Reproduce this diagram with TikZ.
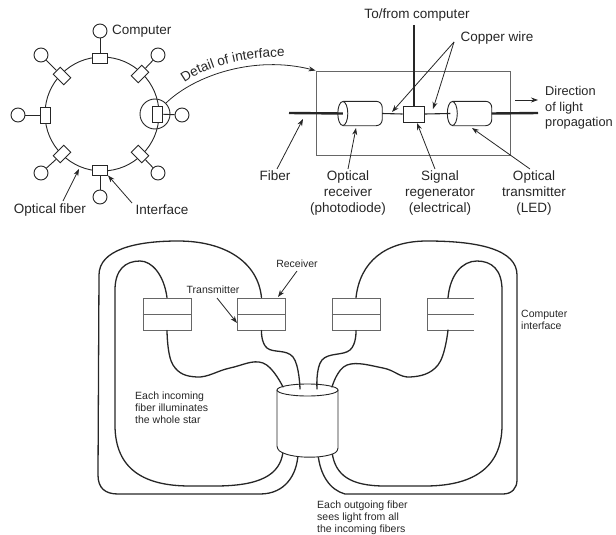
\documentclass[tikz,border=0pt]{standalone}
\usepackage{fontspec}
\setmainfont{Liberation Sans}
\usetikzlibrary{arrows.meta,decorations.text}
\definecolor{ink}{gray}{0.15}
\definecolor{boxgray}{gray}{0.4}
\tikzset{
  line/.style={draw=ink,line width=0.9pt},
  fiber/.style={draw=ink,line width=1.3pt,line cap=round},
  thick fiber/.style={draw=ink,line width=2.4pt},
  wire/.style={draw=ink,line width=1.1pt},
  pointer/.style={draw=ink,line width=0.8pt,-{Stealth[length=7pt,width=5pt]}},
  iface/.style={draw=ink,fill=white,line width=0.9pt,rectangle,minimum width=15pt,minimum height=10pt,inner sep=0pt},
  host/.style={draw=ink,fill=white,line width=0.9pt,circle,minimum size=14pt,inner sep=0pt},
  lab/.style={text=ink,font=\fontsize{13.5}{15.6}\selectfont,inner sep=0pt,align=center},
  small/.style={text=ink,font=\fontsize{10.5}{11.7}\selectfont,inner sep=0pt,align=left},
  pc/.style={draw=boxgray,line width=0.9pt,rectangle,minimum width=48pt,minimum height=32pt,inner sep=0pt},
  tubebox/.style={rectangle,minimum width=45pt,minimum height=24pt,inner sep=0pt},
}
\newcommand{\tubeshape}[1]{%
  \draw[line,fill=white,rounded corners=6pt] ([xshift=6pt]#1.north west) -- (#1.north east) -- (#1.south east) -- ([xshift=6pt]#1.south west);
  \draw[line,fill=white] ([xshift=6pt]#1.west) ellipse [x radius=5pt,y radius=12pt];
}
\begin{document}
\begin{tikzpicture}[x=1pt,y=-1pt]
\useasboundingbox (0,0) rectangle (616,535);
% ring
\node[draw=ink,line width=0.9pt,circle,minimum size=114pt,inner sep=0pt] (ring) at (102,114) {};
\node[iface] (i1) at (100,58) {};
\node[iface,rotate=45] (i2) at (140,74) {};
\node[iface,minimum width=10pt,minimum height=16pt] (i3) at (157,114) {};
\node[iface,rotate=-45] (i4) at (140,154) {};
\node[iface] (i5) at (100,170) {};
\node[iface,rotate=45] (i6) at (62,154) {};
\node[iface,minimum width=10pt,minimum height=16pt] (i7) at (45,115) {};
\node[iface,rotate=-45] (i8) at (62,76) {};
\node[host] (c1) at (100,31) {};
\node[host] (c2) at (158,55) {};
\node[host] (c3) at (182,115) {};
\node[host] (c4) at (158,173) {};
\node[host] (c5) at (100,197) {};
\node[host] (c6) at (41,173) {};
\node[host] (c7) at (18,115) {};
\node[host] (c8) at (41,55) {};
\foreach \k in {1,...,8} {\draw[line] (i\k) -- (c\k);}
\node[draw=ink,line width=0.9pt,circle,minimum size=30pt,inner sep=0pt] (zoomring) at (155,114) {};
\node[lab,anchor=west] (tcomp) at (112,31) {Computer};
\node[lab] (tof) at (50,210) {Optical fiber};
\node[lab] (tif) at (162,210) {Interface};
\coordinate (ofstart) at (63,201);
\coordinate (ofend) at (79,169);
\draw[pointer] (ofstart) -- (ofend);
\coordinate (ifstart) at (132,203);
\draw[pointer] (ifstart) -- (i5.south east);
% detail box
\node[draw=boxgray,line width=0.9pt,rectangle,minimum width=194pt,minimum height=84pt,inner sep=0pt] (detail) at (413,113) {};
\draw[pointer] (zoomring.north east) .. controls (195,75) and (255,55) .. (detail.north west);
\path[decorate,decoration={text along path,text align=center,text={|\fontsize{13.5}{15.6}\selectfont\color{ink}|Detail of interface}}] (180,86) .. controls (205,66) and (245,56) .. (290,57);
\coordinate (fibL) at (289,113);
\coordinate (fibR) at (538,113);
\coordinate (cpu) at (414,25);
\node[tubebox] (rx) at (359.5,113.5) {};
\node[tubebox] (tx) at (469,113.5) {};
\tubeshape{rx}
\tubeshape{tx}
\node[draw=ink,fill=white,line width=0.9pt,rectangle,minimum width=21pt,minimum height=16pt,inner sep=0pt] (reg) at (413.5,114) {};
\draw[thick fiber] (fibL) -- ([xshift=6pt]rx.west);
\draw[thick fiber] (tx.east) -- (fibR);
\draw[wire] (rx.east) -- (reg.west);
\draw[wire] (reg.east) -- ([xshift=4pt]tx.west);
\draw[wire] (cpu) -- (cpu |- reg.north);
\node[lab] (ttf) at (417,15) {To/from computer};
\node[lab] (tcu) at (497,38) {Copper wire};
\coordinate (cuL) at (392,112);
\coordinate (cuR) at (433,109);
\coordinate (cuS) at (454,42);
\draw[pointer] (cuS) -- (cuL);
\draw[pointer] (cuS) -- (cuR);
\coordinate (dirA) at (515,100);
\coordinate (dirB) at (538,100);
\draw[pointer] (dirA) -- (dirB);
\node[lab,anchor=north west,align=left,font=\fontsize{12.8}{15.6}\selectfont] (tdir) at (545,86) {Direction\\of light\\propagation};
\node[lab,anchor=north] (tfib) at (275,171) {Fiber};
\node[lab,anchor=north] (trx) at (348,171) {Optical\\receiver\\(photodiode)};
\node[lab,anchor=north] (treg) at (440,171) {Signal\\regenerator\\(electrical)};
\node[lab,anchor=north] (ttx) at (534,171) {Optical\\transmitter\\(LED)};
\coordinate (fa) at (303,119);
\coordinate (ra) at (356,128);
\coordinate (ga) at (417,123);
\coordinate (ta) at (472,128);
\coordinate (gs) at (435,169);
\coordinate (ts) at (530,169);
\coordinate (fs) at (277,169);
\coordinate (rs) at (348,169);
\draw[pointer] (fs) -- (fa);
\draw[pointer] (rs) -- (ra);
\draw[pointer] (gs) -- (ga);
\draw[pointer] (ts) -- (ta);
% star coupler anchors
\coordinate (s1) at (283,387);
\coordinate (s2) at (300,389);
\coordinate (s3) at (317,389);
\coordinate (s4) at (332,387);
\coordinate (s5) at (283,452);
\coordinate (s6) at (298,454);
\coordinate (s7) at (318,454);
\coordinate (s8) at (332,452);
% computer interfaces
\node[pc] (b1) at (167,314) {};
\node[pc] (b2) at (261.5,314) {};
\node[pc] (b3) at (356,314) {};
\coordinate (b4nw) at (427,298);
\coordinate (b4ne) at (474,298);
\coordinate (b4w) at (427,314);
\coordinate (b4e) at (474,314);
\coordinate (b4sw) at (427,330);
\coordinate (b4se) at (474,330);
\coordinate (b4n) at (448,298);
\coordinate (b4s) at (448,330);
\foreach \k in {1,2,3} {\draw[draw=boxgray,line width=0.9pt] (b\k.west) -- (b\k.east);}
\draw[draw=boxgray,line width=0.9pt] (b4ne) -- (b4nw) -- (b4sw) -- (b4se);
\draw[draw=boxgray,line width=0.9pt] (b4w) -- (b4e);
% outgoing fibres, passing under the star
\draw[fiber] (b1.north) .. controls (164,275) and (152,261) .. (140,261) .. controls (125,261) and (115,270) .. (115,290) -- (115,425) .. controls (115,470) and (145,486) .. (190,486) -- (215,486) .. controls (260,486) and (280,475) .. (s5);
\draw[fiber] (b2.north) .. controls (258,262) and (225,241) .. (178,241) .. controls (135,241) and (99,250) .. (99,275) -- (98,475) .. controls (98,488) and (105,494) .. (118,494) -- (260,494) .. controls (285,494) and (297,475) .. (s6);
\draw[fiber] (b3.north) .. controls (360,262) and (385,241) .. (427,241) .. controls (480,241) and (517,250) .. (517,275) -- (517,480) .. controls (517,488) and (512,494) .. (503,494) -- (345,494) .. controls (330,490) and (320,475) .. (s7);
\draw[fiber] (b4n) .. controls (450,275) and (462,261) .. (477,261) .. controls (492,261) and (502,270) .. (502,290) -- (502,425) .. controls (502,470) and (470,486) .. (425,486) -- (385,486) .. controls (350,486) and (335,475) .. (s8);
% star
\draw[line,fill=white,rounded corners=3pt] (277,390) -- (277,449) .. controls (290,459) and (325,459) .. (338,451) -- (338,390);
\draw[line,fill=white] (307.5,390) ellipse [x radius=30.5pt,y radius=6pt];
% incoming fibres, ending inside the star's top
\draw[fiber] plot[smooth,tension=0.7] coordinates {(b1.south) (173,365) (197,377) (230,368) (263,363) (s1)};
\draw[fiber] plot[smooth,tension=0.7] coordinates {(b2.south) (267,348) (293,357) (s2)};
\draw[fiber] plot[smooth,tension=0.7] coordinates {(b3.south) (350,350) (322,360) (s3)};
\draw[fiber] plot[smooth,tension=0.7] coordinates {(b4s) (438,365) (410,377) (383,368) (347,365) (s4)};
% bottom labels
\node[small,anchor=center] (trc) at (297,264) {Receiver};
\node[small,anchor=center] (ttr) at (213,290) {Transmitter};
\coordinate (rcS) at (297,271);
\coordinate (rcA) at (278,297);
\coordinate (trS) at (217,298);
\coordinate (trA) at (237,323);
\draw[pointer] (rcS) -- (rcA);
\draw[pointer] (trS) -- (trA);
\node[small,anchor=north west] (tin) at (135,392) {Each incoming\\fiber illuminates\\the whole star};
\node[small,anchor=north west] (tout) at (317,501) {Each outgoing fiber\\sees light from all\\the incoming fibers};
\node[small,anchor=north west] (tci) at (521,310) {Computer\\interface};
\end{tikzpicture}
\end{document}
